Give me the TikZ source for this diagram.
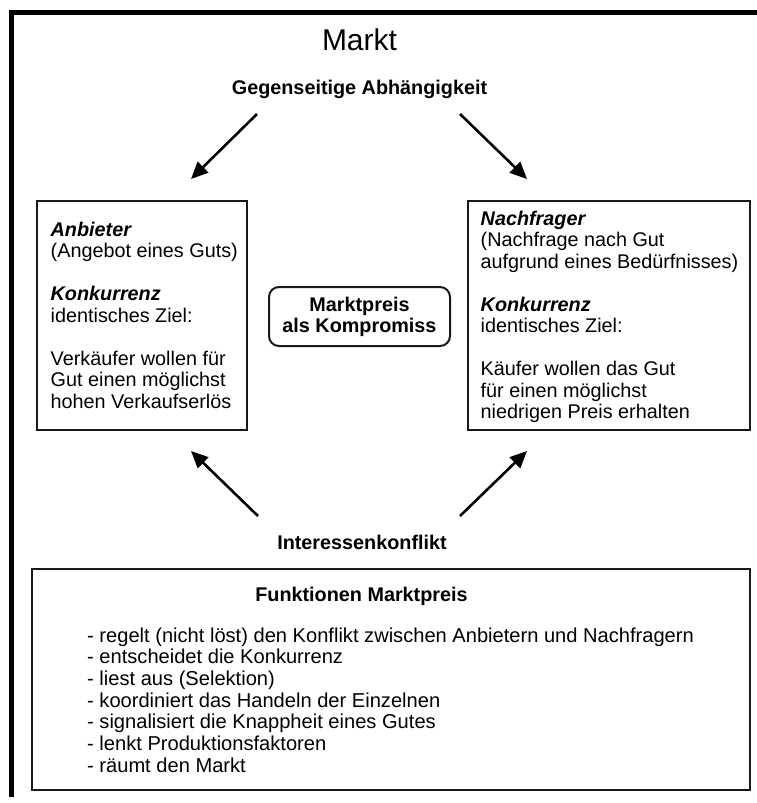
\documentclass[tikz,border=0pt]{standalone}
\usepackage{fontspec}
\setmainfont{Liberation Sans}
\usetikzlibrary{arrows.meta}
\begin{document}
\begin{tikzpicture}[x=1pt,y=-1pt,
  txt/.style={font=\fontsize{19.8}{21.5}\selectfont, inner sep=0pt, text=black},
  boldtxt/.style={txt, font=\fontsize{19.8}{21.5}\selectfont\bfseries},
  boxframe/.style={draw=black!90, line width=2pt, inner sep=0pt},
  bigarrow/.style={line width=2.6pt, -{Triangle[length=17pt,width=15pt]}}]
\useasboundingbox (0,0) rectangle (757,803);
% outer frame (top and left edges)
\draw[line width=5pt, line join=miter] (11.5,797) -- (11.5,12.5) -- (757,12.5);
% titles
\node[txt, font=\fontsize{30}{36}\selectfont, anchor=base] (markt) at (359.5,50) {Markt};
\node[boldtxt, anchor=base] (gegen) at (359.5,94) {Gegenseitige Abhängigkeit};
% boxes
\node[boxframe, minimum width=210.5pt, minimum height=229.5pt] (lbox) at (141.75,315.25) {};
\node[boxframe, minimum width=282pt, minimum height=229.5pt] (rbox) at (609,315.25) {};
\node[boxframe, rounded corners=10pt, minimum width=181pt, minimum height=59pt] (mbox) at (359.5,316.5) {};
\node[boldtxt, align=center, font=\fontsize{19.8}{21}\selectfont\bfseries] (mtext) at (mbox.center) {Marktpreis\\als Kompromiss};
% left box text
\node[txt, anchor=north west, align=left] (ltext) at (50.5,221.6)
 {\textbf{\textit{Anbieter}}\\
  (Angebot eines Guts)\\[21.5pt]
  \textbf{\textit{Konkurrenz}}\\
  identisches Ziel:\\[21.5pt]
  Verkäufer wollen für\\
  Gut einen möglichst\\
  hohen Verkaufserlös};
% right box text
\node[txt, anchor=north west, align=left] (rtext) at (480.5,210.6)
 {\textbf{\textit{Nachfrager}}\\
  (Nachfrage nach Gut\\
  aufgrund eines Bedürfnisses)\\[21.5pt]
  \textbf{\textit{Konkurrenz}}\\
  identisches Ziel:\\[21.5pt]
  Käufer wollen das Gut\\
  für einen möglichst\\
  niedrigen Preis erhalten};
% arrows
\coordinate (a1s) at (257,114); \coordinate (a1e) at (191,179);
\coordinate (a2s) at (460,114); \coordinate (a2e) at (527,179);
\coordinate (a3s) at (258,516); \coordinate (a3e) at (191,451);
\coordinate (a4s) at (460,516); \coordinate (a4e) at (527,451);
\draw[bigarrow] (a1s) -- (a1e);
\draw[bigarrow] (a2s) -- (a2e);
\draw[bigarrow] (a3s) -- (a3e);
\draw[bigarrow] (a4s) -- (a4e);
% conflict
\node[boldtxt, anchor=base] (konflikt) at (362,549) {Interessenkonflikt};
% bottom box
\node[boxframe, minimum width=718pt, minimum height=221pt] (fbox) at (391,679.5) {};
\node[boldtxt, anchor=base] (fhead) at (361.5,601) {Funktionen Marktpreis};
\node[txt, anchor=north west, align=left, font=\fontsize{20.1}{21.7}\selectfont] (flist) at (87,627.4)
 {- regelt (nicht löst) den Konflikt zwischen Anbietern und Nachfragern\\
  - entscheidet die Konkurrenz\\
  - liest aus (Selektion)\\
  - koordiniert das Handeln der Einzelnen\\
  - signalisiert die Knappheit eines Gutes\\
  - lenkt Produktionsfaktoren\\
  - räumt den Markt};
\end{tikzpicture}
\end{document}
